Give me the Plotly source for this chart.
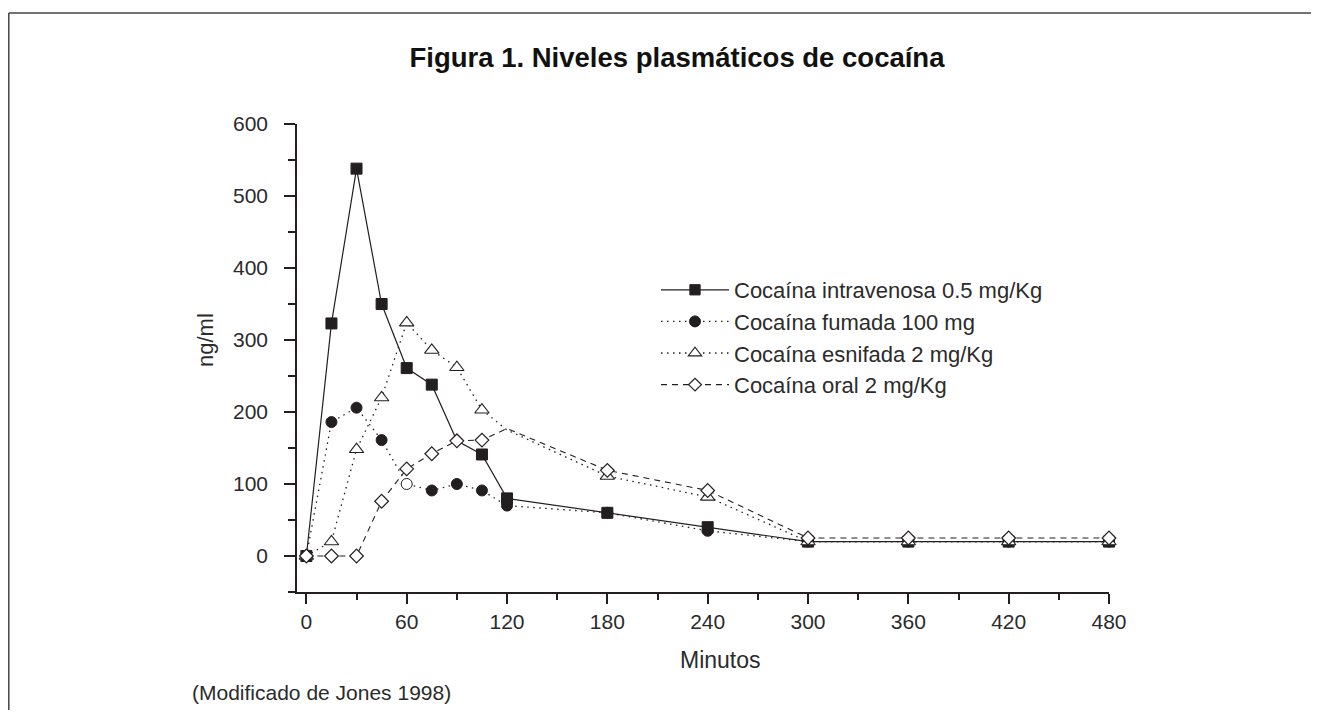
import plotly.graph_objects as go

# ---------------- data ----------------
minutes = [0, 15, 30, 45, 60, 75, 90, 105, 120, 180, 240, 300, 360, 420, 480]
intravenosa = [0, 323, 538, 350, 261, 238, 160, 141, 80, 60, 40, 20, 20, 20, 20]
fumada = [0, 186, 206, 161, 100, 91, 100, 91, 70, 60, 35, 20, 20, 20, 20]
esnifada = [0, 20, 148, 220, 324, 286, 262, 203, 175, 111, 82, 20, 20, 20, 20]
oral = [0, 0, 0, 76, 121, 142, 160, 161, 177, 119, 91, 25, 25, 25, 25]

series_names = [
    "Cocaína intravenosa 0.5 mg/Kg",
    "Cocaína fumada 100 mg",
    "Cocaína esnifada 2 mg/Kg",
    "Cocaína oral 2 mg/Kg",
]
x_ticks = [0, 60, 120, 180, 240, 300, 360, 420, 480]
y_ticks = [0, 100, 200, 300, 400, 500, 600]

title_text = "<b>Figura 1. Niveles plasmáticos de cocaína</b>"
source_text = "(Modificado de Jones 1998)"

# ---------------- layout geometry (pixels) ----------------
# the page body has an 8 px margin; positions below are page pixels
OFF = 8
W, H = 1319 - 2 * OFF, 718 - 2 * OFF
PLOT_X0, PLOT_X1 = 297, 1109      # page px of the plot area
PLOT_Y0, PLOT_Y1 = 124, 592
L = PLOT_X0 - OFF
T = PLOT_Y0 - OFF
PW = PLOT_X1 - PLOT_X0
PH = PLOT_Y1 - PLOT_Y0
R = W - L - PW
B = H - T - PH


def px(xp):
    return (xp - PLOT_X0) / PW


def py(yp):
    return (PLOT_Y1 - yp) / PH


INK = "#231f20"
TXT = "#2b2b2b"
FONT = "Liberation Sans, Arial, Helvetica, sans-serif"

# points drawn only as line vertices (marker hidden behind other marks)
iv_sizes = [0 if m == 90 else 11 for m in minutes]
sn_sizes = [0 if m == 120 else 12.5 for m in minutes]
or_sizes = [0 if m == 120 else 10.5 for m in minutes]
fu_colors = ["white" if m == 60 else INK for m in minutes]

fig = go.Figure()

fig.add_trace(go.Scatter(
    x=minutes, y=fumada, name=series_names[1], mode="lines+markers",
    line=dict(color=INK, width=1.3, dash="1.5px,4.5px"),
    marker=dict(symbol="circle", size=11, color=fu_colors, opacity=1,
                line=dict(color=INK, width=1)),
    cliponaxis=False, legendrank=2,
))
fig.add_trace(go.Scatter(
    x=minutes, y=intravenosa, name=series_names[0], mode="lines+markers",
    line=dict(color=INK, width=1.2),
    marker=dict(symbol="square", size=iv_sizes, color=INK, opacity=1,
                line=dict(color=INK, width=1)),
    cliponaxis=False, legendrank=1,
))
fig.add_trace(go.Scatter(
    x=minutes, y=esnifada, name=series_names[2], mode="lines+markers",
    line=dict(color=INK, width=1.3, dash="1.5px,4.5px"),
    marker=dict(symbol="triangle-up", size=sn_sizes, color="white", opacity=1,
                line=dict(color=INK, width=1.1)),
    cliponaxis=False, legendrank=3,
))
fig.add_trace(go.Scatter(
    x=minutes, y=oral, name=series_names[3], mode="lines+markers",
    line=dict(color=INK, width=1.1, dash="6px,5px"),
    marker=dict(symbol="diamond", size=or_sizes, color="white", opacity=1,
                line=dict(color=INK, width=1.2)),
    cliponaxis=False, legendrank=4,
))

axis_common = dict(
    showgrid=False, zeroline=False, showline=True, linecolor=INK,
    linewidth=1.5, ticks="outside", tickcolor=INK, tickwidth=1.5,
    tickfont=dict(family=FONT, size=21, color=TXT),
)

fig.update_xaxes(
    range=[-5.6, 480], tickvals=x_ticks, ticklen=10,
    minor=dict(dtick=30, tick0=0, ticks="outside", ticklen=6,
               tickcolor=INK, tickwidth=1.5),
    **axis_common,
)
fig.update_yaxes(
    range=[-50, 600], tickvals=y_ticks, ticklen=11, ticklabelstandoff=12,
    minor=dict(dtick=50, tick0=0, ticks="outside", ticklen=7,
               tickcolor=INK, tickwidth=1.5),
    **axis_common,
)

left_edge = OFF + 0.8
shapes = [
    # outer frame (top and left)
    dict(type="line", xref="paper", yref="paper", x0=px(left_edge),
         x1=px(1330), y0=py(13), y1=py(13),
         line=dict(color="#444444", width=1.5)),
    dict(type="line", xref="paper", yref="paper", x0=px(left_edge),
         x1=px(left_edge), y0=py(13), y1=py(730),
         line=dict(color="#444444", width=1.5)),
    # small overhang of x axis to the left of the y axis
    dict(type="line", xref="paper", yref="paper", x0=px(292.5),
         x1=px(PLOT_X0), y0=0, y1=0, line=dict(color=INK, width=1.5)),
]

annotations = [
    dict(text="ng/ml", xref="paper", yref="paper", x=px(205), y=py(340),
         textangle=-90, showarrow=False, xanchor="center", yanchor="middle",
         font=dict(family=FONT, size=22, color=TXT)),
    dict(text="Minutos", xref="paper", yref="paper", x=px(720), y=py(660),
         showarrow=False, xanchor="center", yanchor="middle",
         font=dict(family=FONT, size=23, color=TXT)),
    dict(text=source_text, xref="paper", yref="paper", x=px(190), y=py(692),
         showarrow=False, xanchor="left", yanchor="middle",
         font=dict(family=FONT, size=21, color=TXT)),
]

fig.update_layout(
    width=W, height=H,
    margin=dict(l=L, r=R, t=T, b=B, pad=0),
    paper_bgcolor="white", plot_bgcolor="white",
    title=dict(text=title_text, x=(677 - OFF) / W, xanchor="center",
               xref="container", y=1 - (57 - OFF) / H, yanchor="middle",
               yref="container",
               font=dict(family=FONT, size=27.5, color="#111111")),
    showlegend=True,
    legend=dict(x=px(656), y=py(269), xanchor="left", yanchor="top",
                bgcolor="rgba(0,0,0,0)", borderwidth=0,
                font=dict(family=FONT, size=22, color=TXT),
                itemwidth=68, tracegroupgap=0),
    shapes=shapes, annotations=annotations,
)

fig.write_html("out.html")
